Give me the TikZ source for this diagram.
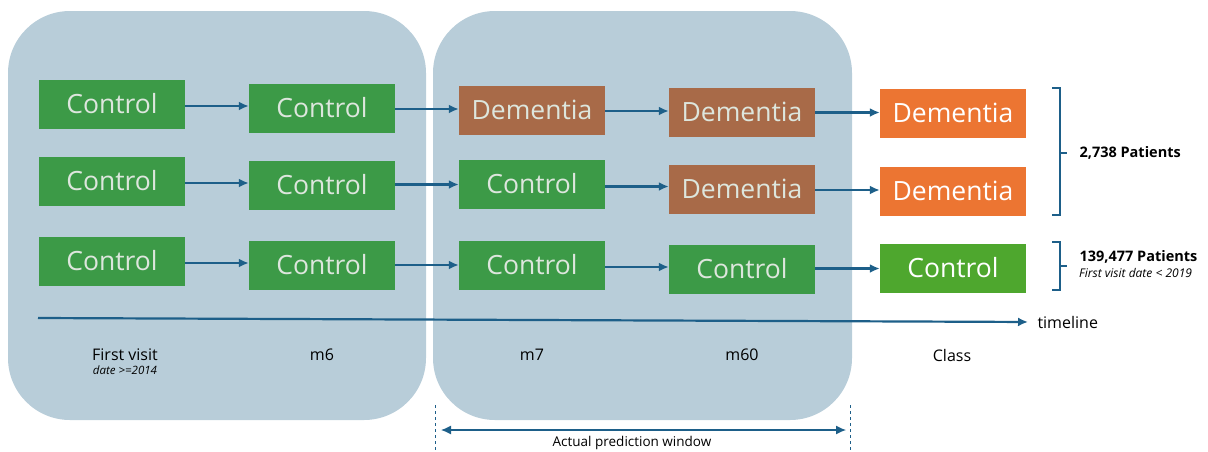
\documentclass[tikz,border=0pt]{standalone}
\usepackage{fontspec}
\setmainfont{Open Sans}
\usetikzlibrary{arrows.meta}
\usetikzlibrary{calc}
\definecolor{panel}{HTML}{B8CDD9}
\definecolor{ctrlgreen}{HTML}{3C9A47}
\definecolor{clsgreen}{HTML}{4EA72E}
\definecolor{dembrown}{HTML}{A86A48}
\definecolor{clsorange}{HTML}{EC7532}
\definecolor{boxtext}{HTML}{DDE6DD}
\definecolor{flow}{HTML}{1D5F89}
\tikzset{
	stage/.style={shape=rectangle,minimum width=146pt,minimum height=49pt,inner sep=0pt,text=boxtext,font=\fontsize{26.5}{30}\selectfont},
	ctrl/.style={stage,fill=ctrlgreen},
	dem/.style={stage,fill=dembrown},
	clsdem/.style={stage,fill=clsorange,text=white},
	clsctrl/.style={stage,fill=clsgreen,text=white},
	link/.style={draw=flow,line width=2.2pt,->},
	lbl/.style={font=\fontsize{16}{18}\selectfont},
}
\newcommand{\flowarrow}[2]{\draw[link] let \p1=($(#1.east)!.5!(#2.west)$) in (#1.east|-\p1) -- (#2.west|-\p1);}
\begin{document}
\begin{tikzpicture}[x=1pt,y=-1pt,>/.tip={Latex[length=10pt,width=9pt]}]
	\useasboundingbox (0,0) rectangle (1208,451);
	% panels
	\fill[panel,rounded corners=62pt] (8,11) rectangle (426,420);
	\fill[panel,rounded corners=62pt] (433,11) rectangle (852,420);
	% first visit
	\draw (112,104) node (fvA) [ctrl] {Control};
	\draw (112,181) node (fvB) [ctrl] {Control};
	\draw (112,261) node (fvC) [ctrl] {Control};
	% m6
	\draw (322,108) node (sixA) [ctrl] {Control};
	\draw (322,185) node (sixB) [ctrl] {Control};
	\draw (322,265) node (sixC) [ctrl] {Control};
	% m7
	\draw (532,110) node (sevA) [dem] {Dementia};
	\draw (532,184) node (sevB) [ctrl] {Control};
	\draw (532,265) node (sevC) [ctrl] {Control};
	% m60
	\draw (742,112) node (sixtyA) [dem] {Dementia};
	\draw (742,189) node (sixtyB) [dem] {Dementia};
	\draw (742,269) node (sixtyC) [ctrl] {Control};
	% class
	\draw (953,113) node (clsA) [clsdem] {Dementia};
	\draw (953,191) node (clsB) [clsdem] {Dementia};
	\draw (953,268) node (clsC) [clsctrl] {Control};
	\foreach \r in {A,B,C} {
		\flowarrow{fv\r}{six\r}
		\flowarrow{six\r}{sev\r}
		\flowarrow{sev\r}{sixty\r}
		\flowarrow{sixty\r}{cls\r}
	}
	% timeline
	\coordinate (tl0) at (38,318);
	\draw (1034,322) node (tl) [lbl,anchor=west] {timeline};
	\draw[link,shorten >=6pt] (tl0) -- (tl.west);
	\draw (125,355) node (fv) [lbl] {First visit};
	\draw (fv.south) node (fvdate) [anchor=north,inner sep=1pt,font=\fontsize{11.5}{12}\selectfont\itshape] {date >=2014};
	\draw (322,355) node (six) [lbl] {m6};
	\draw (532,355) node (sev) [lbl] {m7};
	\draw (742,355) node (sixty) [lbl] {m60};
	\draw (952,355) node (cls) [lbl] {Class};
	% braces
	\draw[flow,line width=2pt] (1052,88) -- (1060,88) -- (1060,215) -- (1052,215);
	\draw[flow,line width=2pt] (1060,153) -- (1067,153);
	\draw[flow,line width=2pt] (1052,242) -- (1060,242) -- (1060,290) -- (1052,290);
	\draw[flow,line width=2pt] (1060,266) -- (1067,266);
	\draw (1076,153) node (dempat) [anchor=west,font=\fontsize{14.5}{16}\selectfont\bfseries] {2,738 Patients};
	\draw (1076,257) node (ctrlpat) [anchor=west,font=\fontsize{14.5}{16}\selectfont\bfseries] {139,477 Patients};
	\draw (ctrlpat.south west) node (ctrldate) [anchor=north west,inner sep=1pt,xshift=2pt,font=\fontsize{12}{13}\selectfont\itshape] {First visit date < 2019};
	% prediction window
	\coordinate (pwL) at (435,405);
	\coordinate (pwR) at (850,405);
	\draw[flow,dashed,line width=0.6pt] (pwL) -- ++(0,46);
	\draw[flow,dashed,line width=0.6pt] (pwR) -- ++(0,46);
	\draw[flow,line width=1.2pt,<->] ([xshift=6pt,yshift=-25pt]pwL) -- ([xshift=-4pt,yshift=-25pt]pwR);
	\draw (632,443) node (pw) [font=\fontsize{13.5}{14}\selectfont] {Actual prediction window};
\end{tikzpicture}
\end{document}
